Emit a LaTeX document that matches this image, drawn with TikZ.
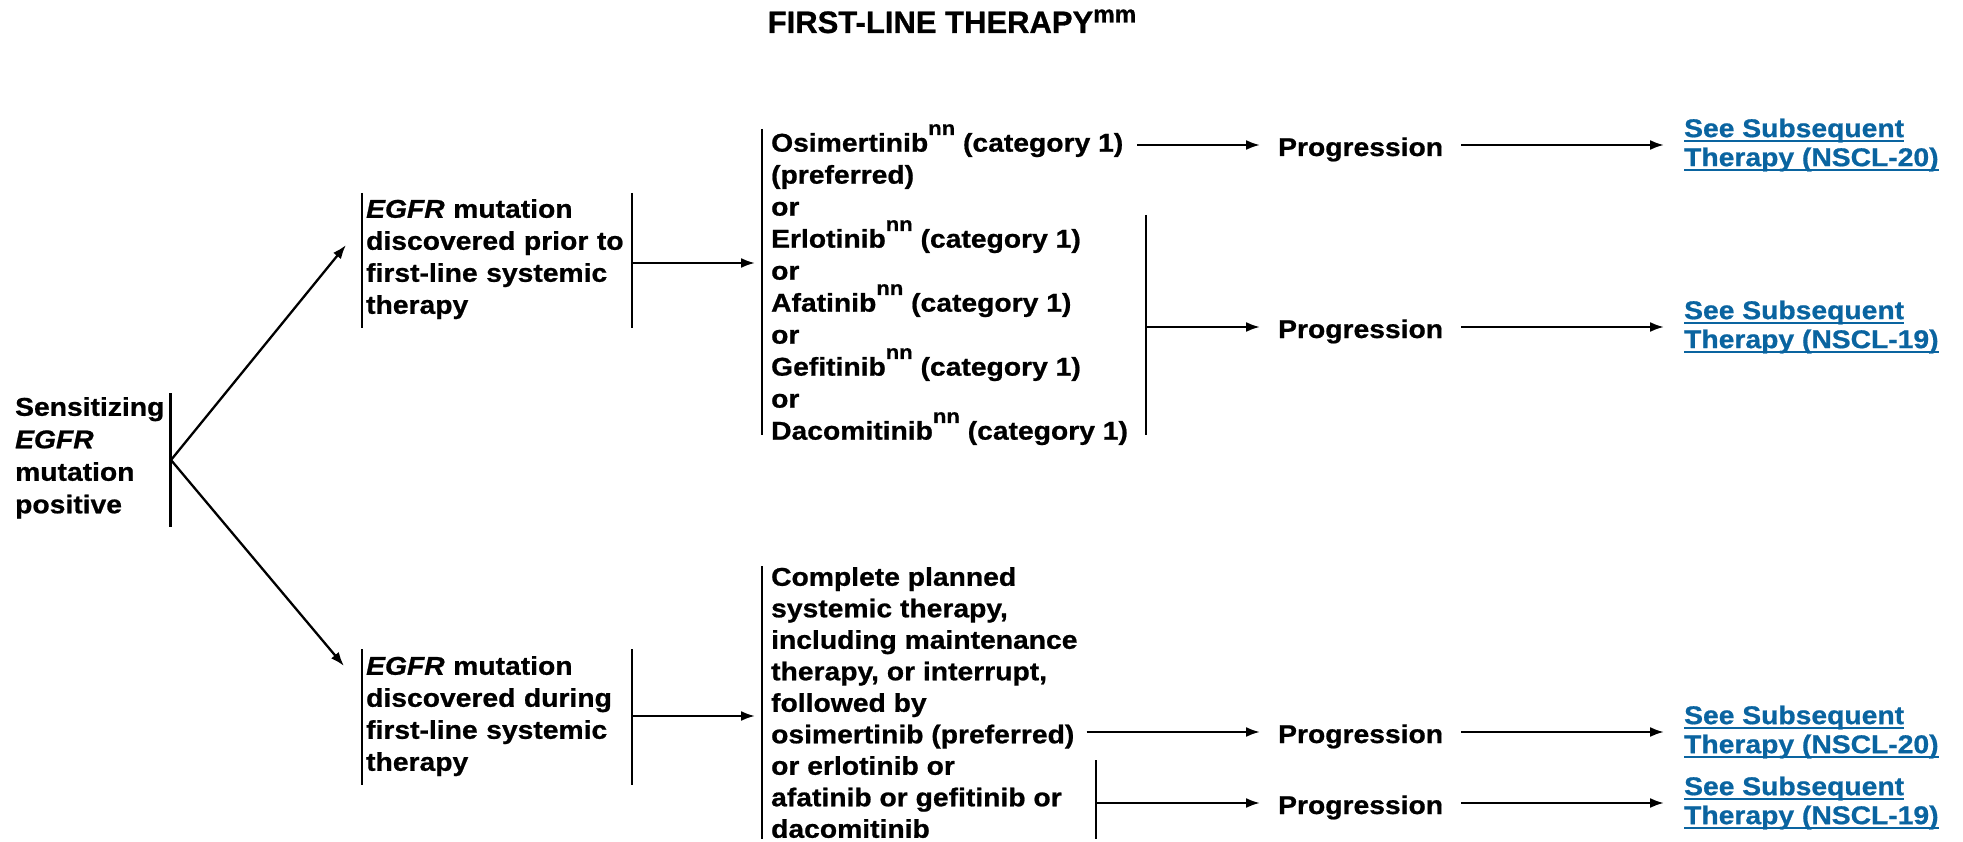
\documentclass[tikz,border=0pt]{standalone}
\usepackage{graphicx}
\usepackage{fontspec}
\setmainfont{Liberation Sans}[FakeStretch=1.1,BoldFeatures={FakeBold=0.8},
  BoldItalicFeatures={FakeBold=0.8}]
\newfontfamily\titlefont{Liberation Sans}[BoldFeatures={FakeBold=0.8}]
\usetikzlibrary{arrows.meta}
\tikzset{>={Latex[length=14pt,width=10pt]}}
\definecolor{linkblue}{RGB}{10,100,160}
\newcommand{\nsup}[2][0.65em]{\raisebox{#1}{\scalebox{0.78}{#2}}}
\newcommand{\linktext}[1]{\setbox0=\hbox{#1}\rlap{\rule[-5pt]{\wd0}{1.8pt}}\box0}

\begin{document}
\begin{tikzpicture}[x=1pt,y=-1pt,line width=2.3pt,
    txt/.style={font=\fontsize{25.7}{32}\selectfont\bfseries,align=left,
      inner xsep=5pt,inner ysep=0pt,anchor=north west},
    box/.style={txt,text width=262pt,inner xsep=3pt},
    opt/.style={txt,inner xsep=8pt},
    prog/.style={txt,anchor=west,inner xsep=17pt,text height=22pt,text depth=0pt},
    lnk/.style={txt,anchor=west,font=\fontsize{25.7}{29}\selectfont\bfseries,
      inner xsep=19pt,text=linkblue}]
  \useasboundingbox (0,0) rectangle (1963,842);

  \node[anchor=base,inner sep=0pt,font=\titlefont\fontsize{31}{36}\selectfont\bfseries]
    (title) at (952,33) {FIRST-LINE THERAPY\nsup[0.34em]{mm}};

  \node[txt,font=\fontsize{25.7}{32.5}\selectfont\bfseries] (sens) at (9,396)
    {Sensitizing\\\textit{EGFR}\\mutation\\positive};
  \draw (sens.east |- 0,393) -- (sens.east |- 0,527);
  \coordinate (fork) at (171,460);

  \node[box] (prior) at (362,198) {\textit{EGFR} mutation\\discovered prior to\\first-line systemic\\therapy};
  \node[box] (during) at (362,655) {\textit{EGFR} mutation\\discovered during\\first-line systemic\\therapy};
  \foreach \b/\t/\u in {prior/193/328, during/649/785} {
    \draw (\b.west |- 0,\t) -- (\b.west |- 0,\u);
    \draw (\b.east |- 0,\t) -- (\b.east |- 0,\u);
  }
  \coordinate (toprior) at (346,245);
  \coordinate (toduring) at (344,666);
  \draw[->] (fork) -- (toprior);
  \draw[->] (fork) -- (toduring);

  \node[opt] (opts) at (762,123) {Osimertinib\nsup{nn} (category 1)\\(preferred)\\or\\Erlotinib\nsup{nn} (category 1)\\or\\Afatinib\nsup{nn} (category 1)\\or\\Gefitinib\nsup{nn} (category 1)\\or\\Dacomitinib\nsup{nn} (category 1)};
  \node[opt,font=\fontsize{25.7}{31.5}\selectfont\bfseries] (lowopts) at (762,566)
    {Complete planned\\systemic therapy,\\including maintenance\\therapy, or interrupt,\\followed by\\osimertinib (preferred)\\or erlotinib or\\afatinib or gefitinib or\\dacomitinib};
  \draw (opts.west |- 0,129) -- (opts.west |- 0,435);
  \draw (lowopts.west |- 0,566) -- (lowopts.west |- 0,839);
  \coordinate (obar) at (1146,327);
  \coordinate (lbar) at (1096,803);
  \draw (obar |- 0,215) -- (obar |- 0,435);
  \draw (lbar |- 0,760) -- (lbar |- 0,839);

  \draw[->,shorten >=7pt] (prior.east |- 0,263) -- (opts.west |- 0,263);
  \draw[->,shorten >=7pt] (during.east |- 0,716) -- (lowopts.west |- 0,716);

  \foreach \n/\y in {1/145, 2/327, 3/732, 4/803}
    \node[prog] (prog\n) at (1260,\y) {Progression};
  \node[lnk] (next1) at (1664,145) {\linktext{See Subsequent}\\\linktext{Therapy (NSCL-20)}};
  \node[lnk] (next2) at (1664,327) {\linktext{See Subsequent}\\\linktext{Therapy (NSCL-19)}};
  \node[lnk] (next3) at (1664,732) {\linktext{See Subsequent}\\\linktext{Therapy (NSCL-20)}};
  \node[lnk] (next4) at (1664,803) {\linktext{See Subsequent}\\\linktext{Therapy (NSCL-19)}};

  \draw[->] (opts.east |- prog1) -- (prog1);
  \draw[->] (obar) -- (prog2);
  \draw[->] (lowopts.east |- prog3) -- (prog3);
  \draw[->] (lbar) -- (prog4);
  \foreach \n in {1,...,4}
    \draw[->] (prog\n) -- (next\n);
\end{tikzpicture}
\end{document}
